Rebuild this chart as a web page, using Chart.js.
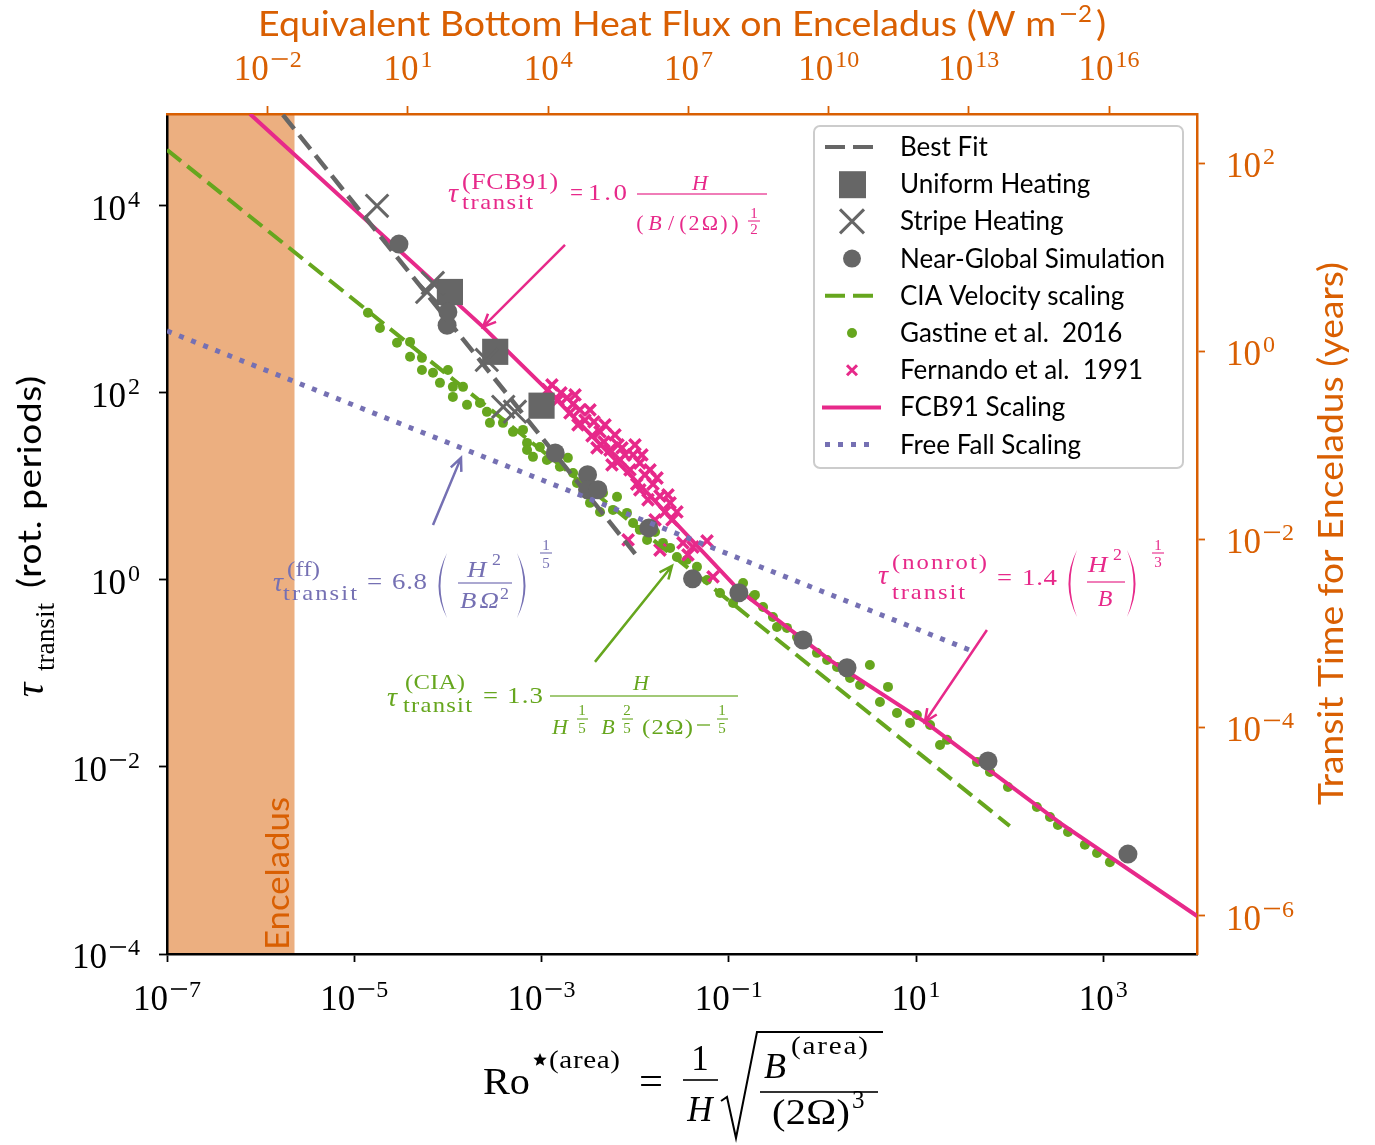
<!DOCTYPE html>
<html>
<head>
<meta charset="utf-8">
<script src="https://cdn.jsdelivr.net/npm/chart.js@4.4.0/dist/chart.umd.min.js"></script>
<style>
  body { margin: 0; background: #fff; }
</style>
</head>
<body>
<canvas id="transitChart" width="1375" height="1145"></canvas>
<script>
// Dark2 colours
const ORANGE = '#d95f02', PURPLE = '#7570b3', PINK = '#e7298a', GREEN = '#66a61e', GRAY = '#666666';
const SERIF = '"Liberation Serif", "DejaVu Serif", serif';
const SANS = 'Lato, "Open Sans", sans-serif';

// axis ranges
const roRange = [1e-7, 1e4];
const tauRange = [1e-4, 9.6e4];
const fluxRange = [7.3e-5, 7.6e17];
const yearsRange = [3.9e-7, 332];
const enceladusRo = 2.3e-6;

// tick values
const roTicks = [1e-7, 1e-5, 1e-3, 1e-1, 1e1, 1e3];
const tauTicks = [1e-4, 1e-2, 1, 1e2, 1e4];
const fluxTicks = [1e-2, 1e1, 1e4, 1e7, 1e10, 1e13, 1e16];
const yearsTicks = [1e-6, 1e-4, 1e-2, 1, 1e2];

// simulations
const uniformRo = [1.05e-4, 3.2e-4, 1.0e-3];
const uniformTau = [1200, 275, 73];
const stripeRo = [1.75e-5, 6.9e-5, 6.0e-5, 2.6e-4, 3.9e-4, 5.2e-4];
const stripeTau = [1.0e4, 1500, 1200, 225, 71, 63];
const nearRo = [3.0e-5, 9.8e-5, 1.0e-4, 1.4e-3, 3.1e-3, 3.1e-3, 4.0e-3, 1.4e-2, 4.1e-2, 0.128, 0.62, 1.83, 58.6, 1830];
const nearTau = [3900, 530, 735, 22.8, 13.3, 9.2, 9.2, 3.6, 1.03, 0.73, 0.228, 0.115, 0.0116, 1.17e-3];

// Gastine et al. 2016
const gastineRo = [1.40e-5, 1.88e-5, 2.86e-5, 3.94e-5, 3.94e-5, 5.28e-5, 5.28e-5, 6.93e-5, 1.00e-4, 8.22e-5,
  1.13e-4, 1.45e-4, 1.13e-4, 1.60e-4, 2.20e-4, 2.61e-4, 2.81e-4, 3.87e-4, 4.95e-4, 6.34e-4,
  7.0e-4, 9.6e-4, 8.1e-4, 1.23e-3, 7.0e-4, 1.14e-3, 1.57e-3, 1.91e-3, 2.17e-3, 2.39e-3,
  4.53e-3, 6.4e-3, 5.79e-3, 8.17e-3, 9.5e-3, 1.34e-2, 1.98e-2, 2.79e-2, 3.57e-2, 4.57e-2,
  5.85e-2, 8.05e-2, 0.111, 0.181, 0.232, 0.296, 0.142, 0.190, 0.418, 0.327,
  0.535, 0.873, 1.12, 1.43, 1.97, 3.21, 2.52, 5.01, 4.11, 6.25,
  10.2, 8.61, 14.1, 21.4, 18.0, 44.7, 61.5, 95.7, 195, 269,
  327, 419, 635, 855, 1175, 3.29e-3, 4.21e-3, 1.12e-2, 1.63e-2, 2.36e-2];
const gastineTau = [718, 495, 343, 351, 243, 237, 176, 164, 176, 128,
  116, 116, 90.6, 74.5, 78.2, 62.7, 47.8, 47.8, 38.3, 40.2,
  29.2, 26.4, 20.7, 20.2, 24.5, 19.2, 16.2, 20.2, 13.9, 10.9,
  8.51, 7.73, 5.61, 5.21, 4.07, 2.68, 2.49, 1.76, 1.64, 1.38,
  1.0, 0.726, 0.568, 0.658, 0.514, 0.402, 0.929, 0.692, 0.307, 0.314,
  0.245, 0.166, 0.139, 0.117, 0.0895, 0.123, 0.0753, 0.0718, 0.0496, 0.0378,
  0.0360, 0.0296, 0.0281, 0.0195, 0.0172, 0.0113, 8.85e-3, 6.11e-3, 3.73e-3, 2.92e-3,
  2.40e-3, 2.02e-3, 1.47e-3, 1.20e-3, 9.6e-4, 6.67, 5.33, 3.43, 3.26, 2.20];

// Fernando et al. 1991
const fernandoRo = [1.29e-3, 1.61e-3, 1.87e-3, 2.17e-3, 2.01e-3, 2.57e-3, 2.91e-3, 3.63e-3, 3.46e-3, 4.21e-3,
  4.65e-3, 5.38e-3, 6.89e-3, 7.78e-3, 9.5e-3, 8.8e-3, 1.12e-2, 1.27e-2, 1.04e-2, 1.55e-2,
  1.84e-2, 2.08e-2, 2.36e-2, 2.79e-2, 8.4e-3, 1.84e-2, 3.24e-2, 4.14e-2, 5.85e-2, 6.78e-2,
  5.65e-3, 6.55e-3, 1.12e-2, 1.37e-2, 1.63e-2, 2.45e-3, 3.91e-3, 3.66e-2,
  1.17e-3, 1.50e-3, 2.28e-3, 3.29e-3, 4.76e-3, 6.08e-3, 7.23e-3, 9.95e-3, 1.18e-2, 1.44e-2,
  1.71e-2, 2.24e-2, 2.47e-2];
const fernandoTau = [122, 100, 88.5, 76, 61, 66, 51, 49, 34.7, 38.3,
  29.9, 24.5, 19.2, 21.7, 21.7, 15.0, 17.8, 13.3, 10.6, 10.6,
  7.9, 5.33, 6.67, 5.33, 2.68, 2.09, 2.49, 2.25, 2.61, 1.08,
  17.0, 27.8, 9.2, 7.2, 4.39, 45.5, 25.8, 1.85,
  108, 84.1, 95, 65.8, 45.5, 35.6, 25.8, 27.8, 21.7, 15.0,
  12.3, 8.1, 4.39];

// scaling curves
const bestFitRo = [1.73e-6, 1.0e-2];
const bestFitTau = [9.4e4, 1.9];
const ciaRo = [1e-7, 100];
const ciaTau = [3.97e4, 2.34e-3];
const freeFallRo = [1e-7, 42];
const freeFallTau = [460, 0.17];
const fcbRo = [7.7e-7, 2.37e-4, 1.09e-3, 1.12e-2, 0.128, 1.20, 12.4, 344, 1e4];
const fcbTau = [9.6e4, 508, 113, 10.4, 0.78, 0.139, 0.0303, 2.52e-3, 2.55e-4];

// annotation arrows (tail -> head, data coords)
const arrowNotes = [
  { from: [1.78e-3, 3830], to: [2.37e-4, 508], color: PINK },
  { from: [6.93e-5, 3.87], to: [1.38e-4, 20.2], color: PURPLE },
  { from: [3.72e-3, 0.133], to: [2.47e-2, 1.41], color: GREEN },
  { from: [57.1, 0.292], to: [12.4, 0.0303], color: PINK }
];

const pts = (xs, ys) => xs.map((x, i) => ({ x: x, y: ys[i] }));

// ---------- drawing helpers ----------
// draw text between x0 and x1: widened a little (then letter-spaced) when short, squeezed when long
function span(ctx, text, x0, x1, y, size, o = {}) {
  ctx.save();
  ctx.font = (o.it ? 'italic ' : '') + size + 'px ' + (o.sans ? SANS : SERIF);
  ctx.textAlign = 'left';
  ctx.textBaseline = 'alphabetic';
  const w = ctx.measureText(text).width;
  const target = x1 - x0;
  const n = [...text].length;
  ctx.translate(x0, y);
  if (target > w) {
    const s = Math.min(target / w, 1.12);
    ctx.scale(s, 1);
    const rem = target / s - w;
    if (n > 1 && rem > 0.5) ctx.letterSpacing = (rem / (n - 1)) + 'px';
  } else {
    ctx.scale(target / w, 1);
  }
  ctx.fillText(text, 0, 0);
  ctx.restore();
}
function g(ctx, ch, cx, y, size, it) {
  ctx.font = (it ? 'italic ' : '') + size + 'px ' + SERIF;
  ctx.textAlign = 'center';
  ctx.textBaseline = 'alphabetic';
  ctx.fillText(ch, cx, y);
}
function hline(ctx, x0, x1, y, lw) {
  ctx.fillRect(x0, y - lw / 2, x1 - x0, lw);
}
function paren(ctx, x0, x1, y0, y1, left) {
  const ym = (y0 + y1) / 2;
  ctx.beginPath();
  if (left) {
    ctx.moveTo(x1, y0);
    ctx.quadraticCurveTo(x0 - 5, ym, x1, y1);
    ctx.quadraticCurveTo(x0 - 1, ym, x1, y0);
  } else {
    ctx.moveTo(x0, y0);
    ctx.quadraticCurveTo(x1 + 5, ym, x0, y1);
    ctx.quadraticCurveTo(x1 + 1, ym, x0, y0);
  }
  ctx.fill();
}
function star(ctx, cx, cy, r) {
  ctx.beginPath();
  for (let i = 0; i < 10; i++) {
    const a = -Math.PI / 2 + i * Math.PI / 5, rr = i % 2 ? r * 0.45 : r;
    ctx.lineTo(cx + rr * Math.cos(a), cy + rr * Math.sin(a));
  }
  ctx.closePath();
  ctx.fill();
}
function arrow(ctx, x1, y1, x2, y2) {
  const a = Math.atan2(y2 - y1, x2 - x1), L = 14;
  ctx.beginPath();
  ctx.moveTo(x1, y1);
  ctx.lineTo(x2, y2);
  ctx.moveTo(x2 - L * Math.cos(a - 0.42), y2 - L * Math.sin(a - 0.42));
  ctx.lineTo(x2, y2);
  ctx.lineTo(x2 - L * Math.cos(a + 0.42), y2 - L * Math.sin(a + 0.42));
  ctx.stroke();
}
const TICK = 35, SUP = 24;
function powerLabel(ctx, exp, x, y, align) {
  const digits = String(Math.abs(exp));
  ctx.font = TICK + 'px ' + SERIF;
  const wb = ctx.measureText('10').width;
  ctx.font = SUP + 'px ' + SERIF;
  const wm = exp < 0 ? 19 : 0;
  const ws = wm + ctx.measureText(digits).width;
  const total = wb + 2 + ws;
  let x0 = align === 'center' ? x - total / 2 : align === 'right' ? x - total : x;
  ctx.textAlign = 'left';
  ctx.textBaseline = 'alphabetic';
  ctx.font = TICK + 'px ' + SERIF;
  ctx.fillText('10', x0, y);
  const xs = x0 + wb + 2;
  if (exp < 0) hline(ctx, xs + 1, xs + wm - 2, y - 21, 1.6);
  ctx.font = SUP + 'px ' + SERIF;
  ctx.fillText(digits, xs + wm, y - 13);
}

// ---------- custom drawing plugin ----------
const decor = {
  id: 'decor',
  beforeDraw(chart) {
    const { ctx, chartArea: a, scales: { x } } = chart;
    ctx.save();
    const xe = x.getPixelForValue(enceladusRo);
    ctx.fillStyle = 'rgba(217,95,2,0.5)';
    ctx.fillRect(a.left, a.top, xe - a.left, a.bottom - a.top);
    ctx.translate(289, 950);
    ctx.rotate(-Math.PI / 2);
    ctx.fillStyle = ORANGE;
    span(ctx, 'Enceladus', 0, 153, 0, 33, { sans: true });
    ctx.restore();
  },
  afterDraw(chart) {
    const { ctx, scales: { x, y, x2, y2 } } = chart;
    ctx.save();

    // tick labels
    ctx.fillStyle = '#000';
    roTicks.forEach(v => powerLabel(ctx, Math.round(Math.log10(v)), x.getPixelForValue(v), 1010, 'center'));
    tauTicks.forEach(v => powerLabel(ctx, Math.round(Math.log10(v)), 140, y.getPixelForValue(v) + 14, 'right'));
    ctx.fillStyle = ORANGE;
    fluxTicks.forEach(v => powerLabel(ctx, Math.round(Math.log10(v)), x2.getPixelForValue(v), 80, 'center'));
    yearsTicks.forEach(v => powerLabel(ctx, Math.round(Math.log10(v)), 1226, y2.getPixelForValue(v) + 14, 'left'));

    // top title
    span(ctx, 'Equivalent Bottom Heat Flux on Enceladus (W m', 258, 1056, 36, 34, { sans: true });
    hline(ctx, 1061, 1076, 14, 1.8);
    span(ctx, '2', 1078, 1092, 22, 23, { sans: true });
    span(ctx, ')', 1096, 1107, 36, 34, { sans: true });

    // right title
    ctx.save();
    ctx.translate(1343, 805);
    ctx.rotate(-Math.PI / 2);
    span(ctx, 'Transit Time for Enceladus (years)', 0, 543, 0, 34, { sans: true });
    ctx.restore();

    // left title
    ctx.fillStyle = '#000';
    ctx.save();
    ctx.translate(43, 699);
    ctx.rotate(-Math.PI / 2);
    ctx.font = 'italic 40px ' + SERIF;
    ctx.textAlign = 'left';
    ctx.fillText('τ', 2, 0);
    span(ctx, 'transit', 28, 96, 11, 27);
    span(ctx, '(rot. periods)', 111, 323, -2, 33, { sans: true });
    ctx.restore();

    // bottom title: Ro*(area) = 1/H sqrt(B(area)/(2Ω)^3)
    span(ctx, 'Ro', 483, 530, 1094, 38);
    star(ctx, 540, 1060, 7);
    span(ctx, '(area)', 549, 620, 1068, 26);
    span(ctx, '=', 639, 663, 1094, 38);
    g(ctx, '1', 700, 1070, 35);
    hline(ctx, 683, 718, 1080, 1.6);
    g(ctx, 'H', 700, 1121, 35, true);
    ctx.strokeStyle = '#000';
    ctx.lineWidth = 2;
    ctx.beginPath();
    ctx.moveTo(721, 1101); ctx.lineTo(727, 1097); ctx.lineTo(736, 1138); ctx.lineTo(757, 1032); ctx.lineTo(883, 1032);
    ctx.stroke();
    ctx.font = 'italic 36px ' + SERIF;
    ctx.textAlign = 'left';
    ctx.fillText('B', 764, 1078);
    span(ctx, '(area)', 791, 868, 1054, 26);
    hline(ctx, 760, 878, 1092, 1.6);
    span(ctx, '(2Ω)', 772, 850, 1124, 36);
    ctx.font = '25px ' + SERIF;
    ctx.fillText('3', 852, 1108);

    // FCB91 formula
    ctx.fillStyle = PINK;
    g(ctx, 'τ', 453, 202, 28, true);
    span(ctx, '(FCB91)', 462, 558, 189, 23);
    span(ctx, 'transit', 462, 533, 209, 22);
    span(ctx, '=', 570, 583, 200, 24);
    span(ctx, '1.0', 588, 627, 200, 24);
    hline(ctx, 637, 767, 194, 1.2);
    g(ctx, 'H', 700, 190, 22, true);
    g(ctx, '(', 640, 230, 22); g(ctx, 'B', 655, 230, 22, true); g(ctx, '/', 671, 230, 22);
    g(ctx, '(', 683, 230, 22); g(ctx, '2', 694, 230, 22); g(ctx, 'Ω', 710, 230, 22);
    g(ctx, ')', 724, 230, 22); g(ctx, ')', 735, 230, 22);
    g(ctx, '1', 754, 218, 15); hline(ctx, 748, 760, 221, 1.1); g(ctx, '2', 754, 234, 15);

    // free-fall formula
    ctx.fillStyle = PURPLE;
    g(ctx, 'τ', 278, 591, 28, true);
    span(ctx, '(ff)', 287, 320, 576, 22);
    span(ctx, 'transit', 283, 357, 600, 22);
    span(ctx, '=', 367, 383, 589, 24);
    span(ctx, '6.8', 392, 427, 589, 24);
    paren(ctx, 435, 447, 553, 618, true);
    span(ctx, 'H', 467, 489, 577, 24, { it: true });
    span(ctx, '2', 492, 501, 565, 16);
    hline(ctx, 458, 512, 583, 1.2);
    span(ctx, 'BΩ', 460, 499, 608, 24, { it: true });
    span(ctx, '2', 500, 509, 599, 16);
    paren(ctx, 517, 529, 553, 618, false);
    g(ctx, '1', 546, 550, 15); hline(ctx, 540, 552, 553, 1.1); g(ctx, '5', 546, 568, 15);

    // CIA formula
    ctx.fillStyle = GREEN;
    g(ctx, 'τ', 392, 706, 28, true);
    span(ctx, '(CIA)', 405, 465, 689, 22);
    span(ctx, 'transit', 403, 472, 712, 22);
    span(ctx, '=', 483, 498, 703, 24);
    span(ctx, '1.3', 507, 543, 703, 24);
    hline(ctx, 550, 738, 696, 1.2);
    g(ctx, 'H', 641, 690, 22, true);
    g(ctx, 'H', 560, 734, 22, true);
    g(ctx, '1', 582, 715, 15); hline(ctx, 577, 588, 719, 1.1); g(ctx, '5', 582, 733, 15);
    g(ctx, 'B', 608, 734, 22, true);
    g(ctx, '2', 627, 715, 15); hline(ctx, 622, 633, 719, 1.1); g(ctx, '5', 627, 733, 15);
    span(ctx, '(2Ω)', 642, 693, 734, 22);
    hline(ctx, 697, 710, 725, 1.3);
    g(ctx, '1', 722, 715, 15); hline(ctx, 717, 728, 719, 1.1); g(ctx, '5', 722, 733, 15);

    // non-rotating formula
    ctx.fillStyle = PINK;
    g(ctx, 'τ', 883, 584, 28, true);
    span(ctx, '(nonrot)', 892, 987, 569, 22);
    span(ctx, 'transit', 892, 965, 599, 22);
    span(ctx, '=', 997, 1012, 585, 24);
    span(ctx, '1.4', 1022, 1057, 585, 24);
    paren(ctx, 1065, 1077, 550, 617, true);
    span(ctx, 'H', 1088, 1110, 572, 24, { it: true });
    span(ctx, '2', 1113, 1122, 560, 16);
    hline(ctx, 1087, 1125, 582, 1.2);
    g(ctx, 'B', 1105, 606, 24, true);
    paren(ctx, 1127, 1139, 550, 617, false);
    g(ctx, '1', 1158, 550, 15); hline(ctx, 1152, 1164, 553, 1.1); g(ctx, '3', 1158, 567, 15);

    // arrows
    ctx.lineWidth = 2.5;
    ctx.lineCap = 'butt';
    arrowNotes.forEach(n => {
      ctx.strokeStyle = n.color;
      arrow(ctx, x.getPixelForValue(n.from[0]), y.getPixelForValue(n.from[1]),
        x.getPixelForValue(n.to[0]), y.getPixelForValue(n.to[1]));
    });

    // legend
    const bx = 814, by = 126, bw = 369, bh = 342;
    ctx.fillStyle = 'rgba(255,255,255,0.8)';
    ctx.strokeStyle = '#cccccc';
    ctx.lineWidth = 2;
    ctx.beginPath();
    ctx.roundRect(bx, by, bw, bh, 6);
    ctx.fill();
    ctx.stroke();
    const entries = [
      ['Best Fit', 'dash', GRAY], ['Uniform Heating', 'square', GRAY], ['Stripe Heating', 'x', GRAY],
      ['Near-Global Simulation', 'circle', GRAY], ['CIA Velocity scaling', 'dash', GREEN],
      ['Gastine et al.  2016', 'dot', GREEN], ['Fernando et al.  1991', 'smallx', PINK],
      ['FCB91 Scaling', 'line', PINK], ['Free Fall Scaling', 'dotted', PURPLE]
    ];
    entries.forEach((e, i) => {
      const cy = 147 + i * 37.2, cx = 852;
      ctx.save();
      ctx.fillStyle = e[2];
      ctx.strokeStyle = e[2];
      if (e[1] === 'dash') {
        ctx.lineWidth = 4; ctx.setLineDash([20, 8]);
        ctx.beginPath(); ctx.moveTo(825, cy); ctx.lineTo(877, cy); ctx.stroke();
      } else if (e[1] === 'dotted') {
        ctx.lineWidth = 5; ctx.setLineDash([5, 8]);
        ctx.beginPath(); ctx.moveTo(825, cy); ctx.lineTo(877, cy); ctx.stroke();
      } else if (e[1] === 'line') {
        ctx.lineWidth = 4;
        ctx.beginPath(); ctx.moveTo(822, cy); ctx.lineTo(881, cy); ctx.stroke();
      } else if (e[1] === 'square') {
        ctx.fillRect(cx - 13, cy - 13, 27, 27);
      } else if (e[1] === 'x' || e[1] === 'smallx') {
        const h = e[1] === 'x' ? 12 : 5;
        ctx.lineWidth = 3;
        ctx.beginPath();
        ctx.moveTo(cx - h, cy - h); ctx.lineTo(cx + h, cy + h);
        ctx.moveTo(cx - h, cy + h); ctx.lineTo(cx + h, cy - h);
        ctx.stroke();
      } else {
        ctx.beginPath(); ctx.arc(cx, cy, e[1] === 'circle' ? 9 : 5, 0, Math.PI * 2); ctx.fill();
      }
      ctx.restore();
      ctx.fillStyle = '#000';
      ctx.font = '26px ' + SANS;
      ctx.textAlign = 'left';
      ctx.textBaseline = 'alphabetic';
      ctx.fillText(e[0], 900, cy + 9);
    });
    ctx.restore();
  }
};

const fixedTicks = list => scale => { scale.ticks = list.map(v => ({ value: v })); };
const axis = (pos, range, list, color, size) => ({
  type: 'logarithmic',
  position: pos,
  min: range[0],
  max: range[1],
  afterBuildTicks: fixedTicks(list),
  afterFit: s => { if (pos === 'top' || pos === 'bottom') s.height = size; else s.width = size; },
  ticks: { display: false, autoSkip: false },
  grid: { drawOnChartArea: false, drawTicks: true, tickLength: 8, tickWidth: 1.8, color: color },
  border: { display: true, color: color, width: 2.5 }
});

const ctx = document.getElementById('transitChart').getContext('2d');
new Chart(ctx, {
  type: 'scatter',
  data: {
    datasets: [
      { label: 'Free Fall Scaling', data: pts(freeFallRo, freeFallTau), showLine: true, pointRadius: 0,
        borderColor: PURPLE, borderWidth: 5, borderDash: [5, 8], order: 0 },
      { label: 'Near-Global Simulation', data: pts(nearRo, nearTau), pointStyle: 'circle', pointRadius: 9.5,
        backgroundColor: GRAY, borderWidth: 0, order: 1 },
      { label: 'Stripe Heating', data: pts(stripeRo, stripeTau), pointStyle: 'crossRot', pointRadius: 16,
        borderColor: GRAY, borderWidth: 3, order: 2 },
      { label: 'Uniform Heating', data: pts(uniformRo, uniformTau), pointStyle: 'rect', pointRadius: 18.5,
        backgroundColor: GRAY, borderWidth: 0, order: 3 },
      { label: 'Best Fit', data: pts(bestFitRo, bestFitTau), showLine: true, pointRadius: 0,
        borderColor: GRAY, borderWidth: 4.5, borderDash: [18, 8], order: 4 },
      { label: 'FCB91 Scaling', data: pts(fcbRo, fcbTau), showLine: true, pointRadius: 0,
        borderColor: PINK, borderWidth: 4, order: 5 },
      { label: 'CIA Velocity scaling', data: pts(ciaRo, ciaTau), showLine: true, pointRadius: 0,
        borderColor: GREEN, borderWidth: 4, borderDash: [18, 8], order: 6 },
      { label: 'Fernando et al. 1991', data: pts(fernandoRo, fernandoTau), pointStyle: 'crossRot', pointRadius: 8,
        borderColor: PINK, borderWidth: 3.5, order: 7 },
      { label: 'Gastine et al. 2016', data: pts(gastineRo, gastineTau), pointStyle: 'circle', pointRadius: 5,
        backgroundColor: GREEN, borderWidth: 0, order: 8 }
    ]
  },
  options: {
    responsive: false,
    animation: false,
    events: [],
    layout: { padding: 0 },
    plugins: { legend: { display: false }, tooltip: { enabled: false } },
    scales: {
      x: axis('bottom', roRange, roTicks, '#000', 191),
      y: axis('left', tauRange, tauTicks, '#000', 167),
      x2: axis('top', fluxRange, fluxTicks, ORANGE, 114),
      y2: axis('right', yearsRange, yearsTicks, ORANGE, 178)
    }
  },
  plugins: [decor]
});
</script>
</body>
</html>
